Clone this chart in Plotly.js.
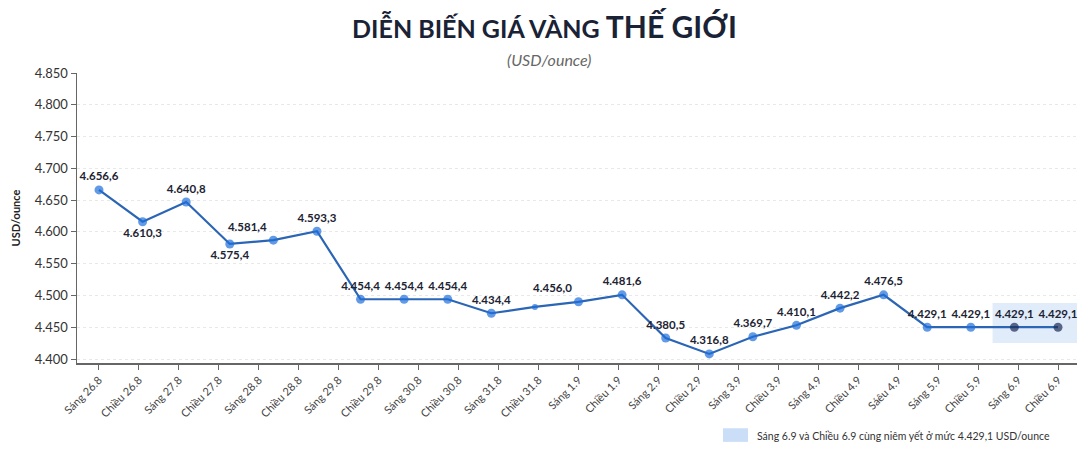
<!DOCTYPE html>
<html>
<head>
<meta charset="utf-8">
<script src="https://cdn.plot.ly/plotly-3.0.1.min.js"></script>
<style>
  html, body { margin: 0; padding: 0; background: #fff; }
  #chart { width: 1089px; height: 449px; }
</style>
</head>
<body>
<div id="chart"></div>
<script>
// nhan truc hoanh
var moc = ['Sáng 26.8', 'Chiều 26.8', 'Sáng 27.8', 'Chiều 27.8', 'Sáng 28.8', 'Chiều 28.8',
  'Sáng 29.8', 'Chiều 29.8', 'Sáng 30.8', 'Chiều 30.8', 'Sáng 31.8', 'Chiều 31.8',
  'Sáng 1.9', 'Chiều 1.9', 'Sáng 2.9', 'Chiều 2.9', 'Sáng 3.9', 'Chiều 3.9',
  'Sáng 4.9', 'Chiều 4.9', 'Sáêu 4.9', 'Sáng 5.9', 'Chiều 5.9', 'Sáng 6.9', 'Chiều 6.9'];

// vi tri diem nhu tren hinh (USD/ounce)
var giaVe = [4666, 4616, 4647, 4581, 4587, 4601, 4494, 4494, 4494, 4472, 4482, 4490,
  4501, 4433, 4408, 4435, 4453, 4480, 4501, 4450, 4450, 4450, 4450];

// so lieu ghi tren nhan
var giaNhan = [4656.6, 4610.3, 4640.8, 4575.4, 4581.4, 4593.3, 4454.4, 4454.4, 4454.4, 4434.4, null, 4456.0,
  4481.6, 4380.5, 4316.8, 4369.7, 4410.1, 4442.2, 4476.5, 4429.1, 4429.1, 4429.1, 4429.1];

var viTriNhan = ['top center', 'bottom center', 'top center', 'bottom center', 'top left', 'top center',
  'top center', 'top center', 'top center', 'top center', 'top center', 'top left',
  'top center', 'top center', 'top center', 'top center', 'top center', 'top center',
  'top center', 'top center', 'top center', 'top center', 'top center'];

function fmt(v) {
  if (v === null) return '';
  var s = v.toFixed(1).split('.');
  return s[0].charAt(0) + '.' + s[0].slice(1) + ',' + s[1];
}

var idx = [], text = [], mau = [], co = [];
for (var i = 0; i < giaVe.length; i++) {
  idx.push(i);
  text.push(fmt(giaNhan[i]));
  mau.push(i >= 21 ? '#1b2c55' : '#1f6fdc');
  co.push(i == 10 ? 6 : 9);
}

var tickIdx = [];
for (var j = 0; j < moc.length; j++) tickIdx.push(j);

var trace = {
  x: idx,
  y: giaVe,
  xaxis: 'x2',
  type: 'scatter',
  mode: 'lines+markers+text',
  line: { color: '#2b65b5', width: 2.2 },
  marker: { color: mau, size: co, line: { width: 0 } },
  text: text,
  textposition: viTriNhan,
  textfont: { family: 'Lato, sans-serif', size: 11.5, color: '#1c2333', weight: 700 },
  cliponaxis: false,
  hoverinfo: 'skip',
  showlegend: false
};

// truc an de hien nhan ngay
var dummy = {
  x: [0], y: [null], xaxis: 'x', type: 'scatter', mode: 'markers',
  hoverinfo: 'skip', showlegend: false
};

var layout = {
  width: 1089,
  height: 449,
  margin: { l: 77, r: 12, t: 73, b: 86 },
  paper_bgcolor: '#ffffff',
  plot_bgcolor: '#ffffff',
  separators: ',.',
  font: { family: 'Lato, sans-serif', color: '#333' },
  title: {
    text: '<b>DIỄN BIẾN GIÁ VÀNG <span style="font-size:30px">THẾ GIỚI</span></b>',
    font: { family: 'Lato, sans-serif', size: 25, color: '#1a2236' },
    x: 0.5, xanchor: 'center', y: 0.935, yanchor: 'middle'
  },
  annotations: [
    {
      text: '<i>(USD/ounce)</i>', xref: 'paper', yref: 'paper', x: 0.472, y: 1.045,
      xanchor: 'center', yanchor: 'middle', showarrow: false,
      font: { family: 'Lato, sans-serif', size: 16, color: '#666' }
    },
    {
      text: 'Sáng 6.9 và Chiều 6.9 cùng niêm yết ở mức 4.429,1 USD/ounce',
      xref: 'paper', yref: 'paper', x: 0.678, y: -0.25, xanchor: 'left', yanchor: 'middle',
      showarrow: false, font: { family: 'Lato, sans-serif', size: 10.5, color: '#333' }
    }
  ],
  shapes: [
    {
      type: 'rect', xref: 'x2', yref: 'y', x0: 20.5, x1: 22.45, y0: 4425, y1: 4488,
      fillcolor: 'rgba(170,200,240,0.35)', line: { width: 0 }, layer: 'below'
    },
    {
      type: 'rect', xref: 'paper', yref: 'paper', x0: 0.646, x1: 0.671, y0: -0.272, y1: -0.225,
      fillcolor: 'rgba(160,195,240,0.55)', line: { width: 0 }
    }
  ],
  xaxis: {
    type: 'linear',
    range: [-0.55, 24.475],
    tickvals: tickIdx,
    ticktext: moc,
    tickangle: -45,
    tickfont: { size: 11, color: '#444' },
    showgrid: false,
    zeroline: false,
    showline: true,
    linecolor: '#666',
    linewidth: 1.5,
    ticks: 'outside',
    ticklen: 5,
    tickcolor: '#666'
  },
  xaxis2: {
    type: 'linear',
    overlaying: 'x',
    range: [-0.505, 22.436],
    visible: false
  },
  yaxis: {
    range: [4393.7, 4850],
    tickvals: [4400, 4450, 4500, 4550, 4600, 4650, 4700, 4750, 4800, 4850],
    tickformat: ',d',
    tickfont: { size: 13, color: '#333' },
    showgrid: true,
    gridcolor: '#e8e8e8',
    griddash: 'dot',
    zeroline: false,
    showline: true,
    linecolor: '#666',
    linewidth: 1.5,
    ticks: 'outside',
    ticklen: 5,
    tickcolor: '#666',
    title: {
      text: '<b>USD/ounce</b>',
      font: { size: 11, color: '#222' },
      standoff: 12
    }
  }
};

Plotly.newPlot('chart', [dummy, trace], layout, { displayModeBar: false, staticPlot: true });
</script>
</body>
</html>
